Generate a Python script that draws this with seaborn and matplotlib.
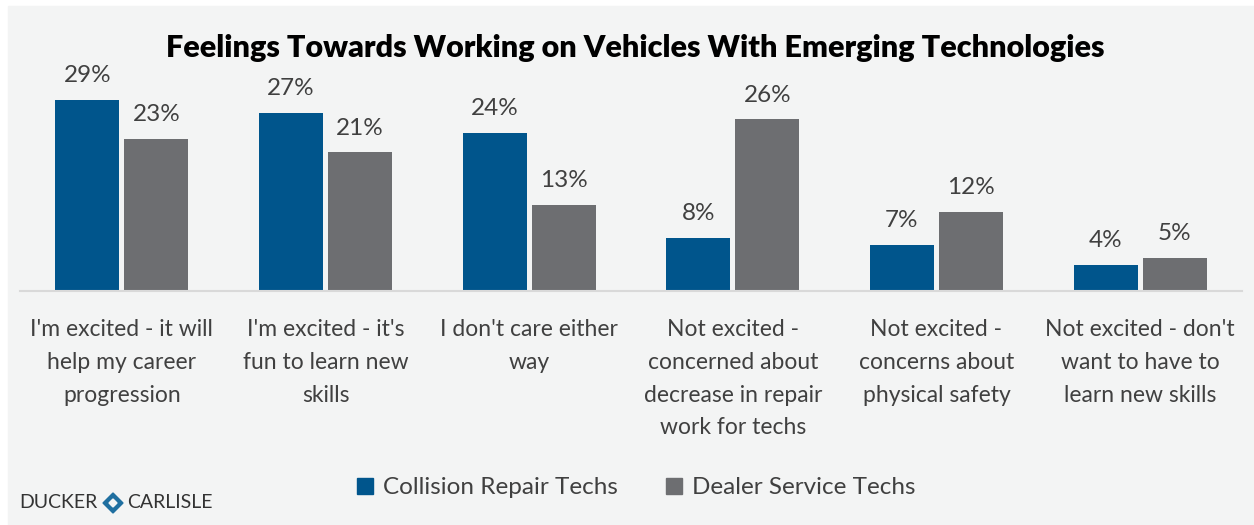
import matplotlib
matplotlib.use("Agg")
import matplotlib.pyplot as plt
import matplotlib.patches as mpatches
import seaborn as sns
import pandas as pd

categories = [
    "I'm excited - it will\nhelp my career\nprogression",
    "I'm excited - it's\nfun to learn new\nskills",
    "I don't care either\nway",
    "Not excited -\nconcerned about\ndecrease in repair\nwork for techs",
    "Not excited -\nconcerns about\nphysical safety",
    "Not excited - don't\nwant to have to\nlearn new skills",
]
series_names = ["Collision Repair Techs", "Dealer Service Techs"]
collision = [29, 27, 24, 8, 7, 4]
dealer = [23, 21, 13, 26, 12, 5]
colors = ["#00558c", "#6d6e71"]

df = pd.DataFrame({
    "category": categories * 2,
    "series": [series_names[0]] * 6 + [series_names[1]] * 6,
    "value": collision + dealer,
})

sns.set_theme(style="white")
plt.rcParams["font.family"] = ["Lato", "DejaVu Sans"]

W, H = 1254, 525
fig = plt.figure(figsize=(W / 100, H / 100), dpi=100, facecolor="white")
bg = "#f3f4f4"
fig.patches.append(mpatches.Rectangle((8 / W, 0), 1 - 8 / W, 1 - 6 / H,
                                      transform=fig.transFigure, color=bg, zorder=-10))

ax = fig.add_axes([20 / W, 1 - 291 / H, (1242 - 20) / W, (291 - 93) / H])
ax.set_facecolor(bg)
ax.patch.set_alpha(0)

sns.barplot(data=df, x="category", y="value", hue="series", order=categories,
            hue_order=series_names, palette=colors, width=0.68, gap=0.075,
            ax=ax, legend=False, saturation=1, linewidth=0)

ax.set_ylim(0, 30)
ax.set_xlim(-0.5, 5.5)
for c in ax.containers:
    ax.bar_label(c, labels=[f"{v:.0f}%" for v in c.datavalues], padding=10,
                 fontsize=17.5, color="#404040")

ax.set_xlabel("")
ax.set_ylabel("")
ax.set_yticks([])
ax.tick_params(axis="x", length=0, pad=20, labelsize=16.5, labelcolor="#404040")
for lbl in ax.get_xticklabels():
    lbl.set_linespacing(1.7)
    lbl.set_verticalalignment("top")
for s in ["top", "left", "right"]:
    ax.spines[s].set_visible(False)
ax.spines["bottom"].set_color("#d9d9d9")
ax.spines["bottom"].set_linewidth(1.5)

fig.text(635 / W, 1 - 48 / H, "Feelings Towards Working on Vehicles With Emerging Technologies",
         ha="center", va="center", fontsize=22, fontweight="heavy", color="black")

handles = [mpatches.Patch(color=colors[i], label=series_names[i]) for i in range(2)]
fig.legend(handles=handles, loc="center", bbox_to_anchor=(636 / W, 1 - 488 / H), ncol=2,
           frameon=False, fontsize=17.5, handlelength=0.65, handleheight=0.65,
           handletextpad=0.4, columnspacing=2.0, labelcolor="#404040")

# logo
fig.text(19 / W, 1 - 503 / H, "DUCKER", ha="left", va="center", fontsize=14,
         color="#333333")
fig.text(127 / W, 1 - 503 / H, "CARLISLE", ha="left", va="center", fontsize=14,
         color="#333333")
cx, cy = 113, 503
diamond = mpatches.Polygon([((cx) / W, 1 - (cy - 10) / H), ((cx + 10) / W, 1 - cy / H),
                            ((cx) / W, 1 - (cy + 10) / H), ((cx - 10) / W, 1 - cy / H)],
                           closed=True, transform=fig.transFigure, color="#1f6fa0", zorder=5)
fig.patches.append(diamond)
inner = mpatches.Polygon([((cx) / W, 1 - (cy - 4) / H), ((cx + 4) / W, 1 - cy / H),
                          ((cx) / W, 1 - (cy + 4) / H), ((cx - 4) / W, 1 - cy / H)],
                         closed=True, transform=fig.transFigure, color=bg, zorder=6)
fig.patches.append(inner)

fig.savefig("out.png", dpi=100, facecolor="white")
